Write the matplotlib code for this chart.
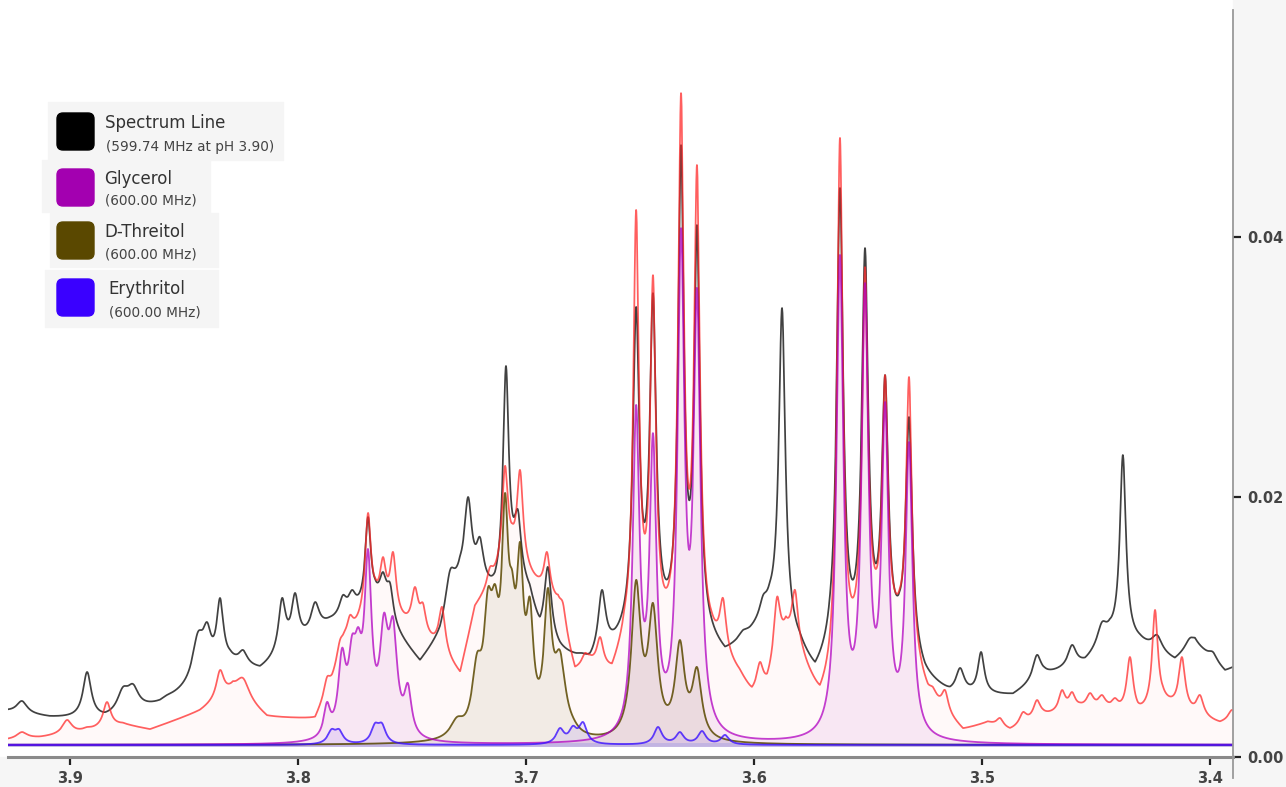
import numpy as np
import matplotlib.pyplot as plt
from matplotlib.patches import FancyBboxPatch, Rectangle
from matplotlib.lines import Line2D

# baseline level of all traces (ppm axis, intensity axis on the right)
BASE = 0.00092

# Spectrum line: peaks (ppm, height, half width) and lower envelope
black_ppm = [3.9211, 3.8925, 3.8768, 3.8724, 3.8575, 3.8439, 3.8399, 3.8342, 3.8241, 3.8175,
             3.8070, 3.8013, 3.7925, 3.7846, 3.7803, 3.7763, 3.7693, 3.7627, 3.7596, 3.7434,
             3.7333, 3.7254, 3.7202, 3.7088, 3.7035, 3.6904, 3.6754, 3.6667, 3.6517, 3.6443,
             3.6320, 3.6250, 3.6048, 3.5960, 3.5877, 3.5623, 3.5513, 3.5425, 3.5320, 3.5096,
             3.5004, 3.4759, 3.4605, 3.4474, 3.4382, 3.4232, 3.4088, 3.3987]
black_val = [0.00431, 0.00654, 0.00539, 0.00562, 0.00477, 0.00962, 0.01038, 0.01223, 0.00823, 0.00692,
             0.01223, 0.01262, 0.01192, 0.01069, 0.01246, 0.01285, 0.01846, 0.01423, 0.01338, 0.00800,
             0.01438, 0.02000, 0.01692, 0.03008, 0.01900, 0.01462, 0.00800, 0.01285, 0.03462, 0.03569,
             0.04708, 0.04092, 0.00977, 0.01246, 0.03454, 0.04377, 0.03915, 0.02938, 0.02615, 0.00685,
             0.00808, 0.00785, 0.00862, 0.01038, 0.02323, 0.00939, 0.00915, 0.00808]
black_hw = [0.0028, 0.0022, 0.0030, 0.0030, 0.0028, 0.0030, 0.0022, 0.0018, 0.0022, 0.0022,
            0.0019, 0.0019, 0.0022, 0.0025, 0.0019, 0.0019, 0.0015, 0.0020, 0.0017, 0.0022,
            0.0026, 0.0020, 0.0020, 0.0015, 0.0016, 0.0019, 0.0022, 0.0020, 0.0017, 0.0017,
            0.0015, 0.0015, 0.0022, 0.0019, 0.0017, 0.0017, 0.0017, 0.0017, 0.0017, 0.0022,
            0.0017, 0.0022, 0.0022, 0.0025, 0.0016, 0.0026, 0.0026, 0.0022]
black_bg_ppm = [3.9272, 3.9088, 3.8847, 3.8605, 3.8474, 3.8298, 3.8167, 3.7991, 3.7860, 3.7750,
                3.7662, 3.7553, 3.7465, 3.7377, 3.7289, 3.7136, 3.7048, 3.6983, 3.6939, 3.6851,
                3.6719, 3.6610, 3.6544, 3.6237, 3.6127, 3.6018, 3.5930, 3.5798, 3.5732, 3.5667,
                3.5360, 3.5250, 3.5140, 3.4864, 3.4724, 3.4548, 3.4439, 3.4307, 3.4154, 3.4066,
                3.3934, 3.3869]
black_bg_val = [0.00346, 0.00300, 0.00285, 0.00400, 0.00515, 0.00708, 0.00654, 0.00862, 0.01015, 0.01092,
                0.01150, 0.00900, 0.00708, 0.00900, 0.01285, 0.01208, 0.01400, 0.01208, 0.00900, 0.00785,
                0.00685, 0.00808, 0.00900, 0.00900, 0.00746, 0.00900, 0.01054, 0.00785, 0.00577, 0.00708,
                0.00823, 0.00577, 0.00462, 0.00462, 0.00615, 0.00708, 0.00900, 0.00862, 0.00731, 0.00862,
                0.00654, 0.00708]

# red trace
red_ppm = [3.9211, 3.9013, 3.8925, 3.8838, 3.8342, 3.8241, 3.7903, 3.7873, 3.7816, 3.7772,
           3.7728, 3.7693, 3.7627, 3.7583, 3.7487, 3.7452, 3.7368, 3.7246, 3.7193, 3.7158,
           3.7092, 3.7026, 3.6908, 3.6838, 3.6741, 3.6675, 3.6596, 3.6517, 3.6443, 3.6320,
           3.6250, 3.6136, 3.5974, 3.5899, 3.5820, 3.5623, 3.5513, 3.5425, 3.5320, 3.5215,
           3.5162, 3.4921, 3.4820, 3.4759, 3.4649, 3.4605, 3.4526, 3.4474, 3.4417, 3.4351,
           3.4241, 3.4123, 3.4044, 3.3904]
red_val = [0.00192, 0.00285, 0.00231, 0.00423, 0.00669, 0.00607, 0.00362, 0.00615, 0.00900, 0.01092,
           0.01108, 0.01877, 0.01538, 0.01577, 0.01308, 0.01185, 0.01154, 0.00746, 0.01246, 0.01462,
           0.02239, 0.02208, 0.01577, 0.01185, 0.00800, 0.00923, 0.00692, 0.04208, 0.03708, 0.05108,
           0.04554, 0.01223, 0.00731, 0.01231, 0.01285, 0.04762, 0.03769, 0.02938, 0.02923, 0.00538,
           0.00515, 0.00300, 0.00346, 0.00438, 0.00515, 0.00500, 0.00492, 0.00477, 0.00454, 0.00769,
           0.01131, 0.00769, 0.00477, 0.00362]
red_hw = [0.0028, 0.0025, 0.0019, 0.0020, 0.0020, 0.0034, 0.0016, 0.0016, 0.0018, 0.0016,
          0.0016, 0.0015, 0.0016, 0.0016, 0.0018, 0.0016, 0.0017, 0.0016, 0.0018, 0.0016,
          0.0016, 0.0016, 0.0016, 0.0017, 0.0017, 0.0017, 0.0017, 0.0015, 0.0015, 0.0015,
          0.0015, 0.0017, 0.0017, 0.0017, 0.0017, 0.0015, 0.0015, 0.0015, 0.0015, 0.0017,
          0.0017, 0.0018, 0.0019, 0.0019, 0.0017, 0.0017, 0.0019, 0.0019, 0.0017, 0.0017,
          0.0015, 0.0017, 0.0019, 0.0019]
red_bg_ppm = [3.9272, 3.9132, 3.8969, 3.8768, 3.8649, 3.8430, 3.8285, 3.8136, 3.7925, 3.7851,
              3.7794, 3.7662, 3.7553, 3.7390, 3.7289, 3.7224, 3.7060, 3.6965, 3.6860, 3.6785,
              3.6719, 3.6623, 3.6566, 3.6237, 3.6185, 3.6062, 3.6009, 3.5943, 3.5860, 3.5785,
              3.5711, 3.5645, 3.5491, 3.5360, 3.5237, 3.5127, 3.5083, 3.4974, 3.4877, 3.4732,
              3.4570, 3.4452, 3.4316, 3.4206, 3.4066, 3.3956, 3.3869]
red_bg_val = [0.00131, 0.00146, 0.00185, 0.00246, 0.00208, 0.00346, 0.00500, 0.00300, 0.00285, 0.00550,
              0.00850, 0.01150, 0.01020, 0.00823, 0.00620, 0.01130, 0.01500, 0.01320, 0.01130, 0.00630,
              0.00685, 0.00592, 0.00820, 0.00850, 0.00820, 0.00590, 0.00440, 0.00490, 0.00900, 0.00690,
              0.00390, 0.00520, 0.00900, 0.00900, 0.00440, 0.00260, 0.00190, 0.00250, 0.00190, 0.00300,
              0.00360, 0.00350, 0.00300, 0.00400, 0.00310, 0.00250, 0.00300]

# Glycerol
gly_ppm = [3.7873, 3.7807, 3.7763, 3.7736, 3.7693, 3.7623, 3.7583, 3.7518,
           3.6517, 3.6443, 3.6320, 3.6250, 3.5623, 3.5513, 3.5425, 3.5320]
gly_val = [0.00423, 0.00838, 0.00938, 0.01000, 0.01600, 0.01108, 0.01077, 0.00569,
           0.02708, 0.02492, 0.04069, 0.03608, 0.03862, 0.03646, 0.02731, 0.02423]
gly_hw = [0.0017, 0.0020, 0.0020, 0.0020, 0.0019, 0.0022, 0.0022, 0.0019,
          0.0018, 0.0018, 0.0018, 0.0018, 0.0018, 0.0018, 0.0018, 0.0018]

# D-Threitol
thr_ppm = [3.7303, 3.7215, 3.7167, 3.7136, 3.7092, 3.7061, 3.7026, 3.6983, 3.6904, 3.6851,
           3.6794, 3.6517, 3.6443, 3.6325, 3.6250]
thr_val = [0.00308, 0.00800, 0.01300, 0.01330, 0.02031, 0.01438, 0.01654, 0.01230, 0.01300, 0.00820,
           0.00308, 0.01362, 0.01185, 0.00900, 0.00692]
thr_hw = [0.0035, 0.0026, 0.0022, 0.0022, 0.0018, 0.0018, 0.0018, 0.0019, 0.0020, 0.0030,
          0.0030, 0.0025, 0.0025, 0.0025, 0.0025]

# Erythritol
ery_ppm = [3.7853, 3.7820, 3.7662, 3.7632, 3.6851, 3.6794, 3.6750, 3.6421, 3.6325, 3.6228, 3.6127]
ery_val = [0.00215, 0.00215, 0.00262, 0.00262, 0.00223, 0.00240, 0.00269, 0.00231, 0.00192, 0.00200, 0.00170]
ery_hw = [0.0021] * 11

legend_names = ['Spectrum Line', 'Glycerol', 'D-Threitol', 'Erythritol']
legend_subs = ['(599.74 MHz at pH 3.90)', '(600.00 MHz)', '(600.00 MHz)', '(600.00 MHz)']
legend_cols = ['#000000', '#a300b0', '#5a4800', '#3a00ff']

grid = np.linspace(3.386, 3.930, 6000)


def lorentz(x, x0, hw):
    return 1.0 / (1.0 + ((x - x0) / hw) ** 2)


def trace(p, v, hw, bg_p=None, bg_v=None):
    p, v, hw = np.array(p), np.array(v), np.array(hw)
    if bg_p is None:
        bg = lambda x: np.full_like(x, BASE)
    else:
        o = np.argsort(bg_p)
        bp, bv = np.array(bg_p)[o], np.array(bg_v)[o]
        bg = lambda x: np.interp(x, bp, bv)
    M = lorentz(p[:, None], p[None, :], hw[None, :])
    t = v - bg(p)
    keep = t > 0
    amp = np.zeros(len(p))
    for _ in range(len(p)):
        amp = np.zeros(len(p))
        idx = np.where(keep)[0]
        amp[idx] = np.linalg.lstsq(M[np.ix_(idx, idx)], t[idx], rcond=None)[0]
        if (amp >= 0).all():
            break
        keep[np.argmin(amp)] = False
    return bg(grid) + (amp[None, :] * lorentz(grid[:, None], p[None, :], hw[None, :])).sum(1)


black = trace(black_ppm, black_val, black_hw, black_bg_ppm, black_bg_val)
red = trace(red_ppm, red_val, red_hw, red_bg_ppm, red_bg_val)
gly = trace(gly_ppm, gly_val, gly_hw)
thr = trace(thr_ppm, thr_val, thr_hw)
ery = trace(ery_ppm, ery_val, ery_hw)

W, H = 1286, 787
fig = plt.figure(figsize=(W / 100, H / 100), dpi=100, facecolor='white')

# grey margins under the x axis and right of the y axis
fig.add_artist(Rectangle((0, 0), 1, 30 / H, transform=fig.transFigure, color='#f6f6f6', zorder=0))
fig.add_artist(Rectangle((1233 / W, 0), 1, 1, transform=fig.transFigure, color='#f6f6f6', zorder=0))

ax = fig.add_axes([8 / W, 30 / H, 1225 / W, 747 / H])
ax.set_facecolor('white')

ax.fill_between(grid, BASE, red, color='#ff0000', alpha=0.025, lw=0, zorder=1)
ax.fill_between(grid, BASE, gly, color='#a000b0', alpha=0.07, lw=0, zorder=1)
ax.fill_between(grid, BASE, thr, color='#5a4800', alpha=0.08, lw=0, zorder=1)
ax.fill_between(grid, BASE, ery, color='#3a00ff', alpha=0.08, lw=0, zorder=1)
ax.axhline(BASE, color='#c2b4e2', lw=2.8, zorder=1.5)

ax.plot(grid, black, color='#202020', lw=1.25, alpha=0.85, zorder=2)
ax.plot(grid, red, color='#ff2a2a', lw=1.25, alpha=0.75, zorder=3)
ax.plot(grid, thr, color='#5a4800', lw=1.3, alpha=0.85, zorder=4)
ax.plot(grid, gly, color='#b000c0', lw=1.3, alpha=0.75, zorder=5)
ax.plot(grid, ery, color='#3a10ff', lw=1.3, alpha=0.8, zorder=6)

ax.set_xlim(3.9272, 3.3899)
ax.set_ylim(0, 0.05746)
ax.set_xticks([3.9, 3.8, 3.7, 3.6, 3.5, 3.4])
ax.set_xticklabels(['3.9', '3.8', '3.7', '3.6', '3.5', '3.4'])
ax.yaxis.tick_right()
ax.set_yticks([0.0, 0.02, 0.04])
ax.set_yticklabels(['0.00', '0.02', '0.04'])
for s in ['left', 'top', 'right']:
    ax.spines[s].set_visible(False)
ax.spines['bottom'].set_color('#8a8a8a')
ax.spines['bottom'].set_linewidth(2.2)
ax.tick_params(axis='both', direction='out', length=6, width=1.6, color='#222222',
               labelsize=10.5, labelcolor='#444444', pad=4)
for lab in ax.get_xticklabels() + ax.get_yticklabels():
    lab.set_fontweight('bold')
fig.add_artist(Line2D([1233 / W, 1233 / W], [(H - 778) / H, (H - 10) / H],
                      transform=fig.transFigure, color='#999999', lw=1.3))

# legend
bg_boxes = [(48, 102, 235, 58), (42, 160, 168, 52), (50, 213, 168, 54), (45, 270, 173, 57)]
sq_tops = [113, 169, 222, 279]
title_y = [123, 179, 232, 289]
sub_y = [147, 201, 254, 312]
text_x = [105, 104, 104, 108]
for i in range(4):
    x0, y0, w, h = bg_boxes[i]
    fig.add_artist(Rectangle((x0 / W, (H - y0 - h) / H), w / W, h / H,
                             transform=fig.transFigure, color='#f5f5f5', zorder=3))
    fig.add_artist(FancyBboxPatch((57, H - sq_tops[i] - 37), 37, 37,
                                  boxstyle='round,pad=0,rounding_size=6',
                                  transform=None, color=legend_cols[i], zorder=4))
    fig.text(text_x[i] / W, 1 - title_y[i] / H, legend_names[i], fontsize=12,
             color='#333333', va='center', ha='left', zorder=5)
    fig.text((text_x[i] + 1) / W, 1 - sub_y[i] / H, legend_subs[i], fontsize=9.8,
             color='#444444', va='center', ha='left', zorder=5)

fig.savefig('out.png', dpi=100, facecolor='white')
